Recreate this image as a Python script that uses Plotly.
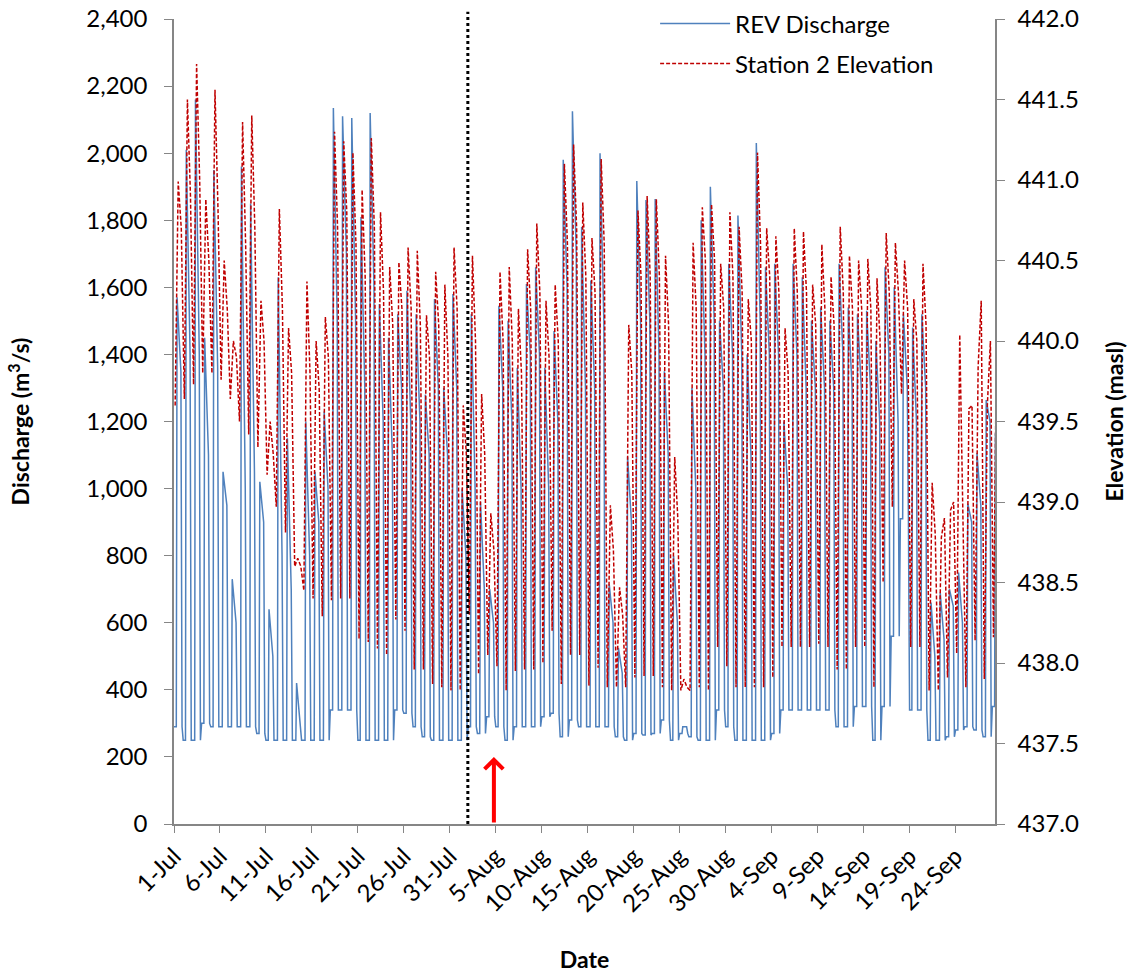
import plotly.graph_objects as go
import pandas as pd

# ---------------- data (one cycle per day from 1-Jul) ----------------
start_date = "2013-07-01"

# REV discharge (m3/s): night low, daily peak, evening level
q_lo = [290, 250, 250, 300, 290, 290, 290, 290, 290, 270,
        250, 250, 250, 250, 250, 250, 250, 340, 340, 340,
        250, 250, 250, 250, 340, 330, 290, 260, 250, 250,
        250, 250, 290, 270, 320, 290, 250, 290, 290, 290,
        320, 330, 260, 310, 290, 290, 290, 290, 260, 250,
        270, 265, 270, 310, 250, 270, 260, 250, 250, 340,
        290, 250, 250, 250, 250, 270, 340, 340, 340, 340,
        340, 340, 290, 290, 350, 350, 250, 350, 560, 910,
        340, 340, 250, 250, 260, 280, 290, 280, 260, 350]
q_pk = [1570, 2010, 2160, 1450, 1950, 1050, 730, 1960, 1850, 1020,
        640, 1630, 1150, 420, 1200, 1050, 1230, 2135, 2110, 2105,
        1810, 2120, 1550, 1450, 1520, 1590, 1520, 1280, 1565, 1300,
        1580, 1000, 1520, 960, 700, 1545, 1500, 1360, 1610, 1660,
        1360, 1470, 1980, 2125, 1780, 1620, 2000, 715, 525, 1095,
        1917, 1860, 1863, 1350, 800, 290, 1300, 1800, 1900, 1500,
        1670, 1814, 1400, 2030, 1660, 1670, 1200, 1670, 1630, 1500,
        1540, 1500, 1670, 1540, 1520, 1530, 1440, 1660, 1600, 1520,
        1480, 1520, 660, 690, 700, 750, 955, 1106, 1264, 1165]
q_mid = [1350, 1400, 1400, 1100, 1360, 950, 600, 1000, 1050, 900,
         500, 800, 700, 300, 800, 900, 1000, 1500, 1700, 1500,
         1300, 1600, 1200, 1100, 1300, 1200, 1200, 1100, 1300, 1100,
         1300, 800, 1000, 700, 600, 1300, 1200, 1000, 1400, 1400,
         1000, 1200, 1600, 1700, 1300, 1300, 1500, 600, 450, 900,
         1500, 1500, 1400, 1100, 600, 290, 1000, 1400, 1500, 1300,
         1400, 1400, 1100, 1500, 1400, 1400, 1000, 1400, 1300, 1300,
         1300, 1300, 1400, 1300, 1300, 1300, 1200, 1400, 1200, 1300,
         1200, 1300, 500, 550, 650, 600, 900, 950, 1200, 1000]

# Station 2 elevation (masl): daily low, daily peak, evening level
e_lo = [439.60, 439.64, 439.73, 439.80, 439.80, 439.76, 439.64, 439.50, 439.42, 439.34,
        439.17, 438.97, 438.81, 438.60, 438.45, 438.40, 438.29, 438.39, 438.40, 438.40,
        438.15, 438.13, 438.09, 438.05, 438.27, 438.20, 437.96, 437.96, 437.87, 437.85,
        437.83, 437.83, 438.30, 437.93, 438.05, 437.98, 437.83, 437.95, 437.96, 437.96,
        438.00, 438.20, 437.87, 438.05, 438.05, 437.86, 437.97, 437.85, 437.85, 437.85,
        437.91, 437.92, 437.92, 437.85, 437.83, 437.83, 437.83, 437.85, 437.83, 438.10,
        437.98, 437.85, 437.85, 437.85, 437.85, 437.91, 438.10, 438.10, 438.10, 438.10,
        438.12, 438.10, 437.96, 437.96, 438.10, 438.10, 437.85, 438.50, 438.97, 439.67,
        438.10, 438.10, 437.83, 437.83, 437.91, 438.06, 437.85, 438.14, 437.90, 438.16]
e_pk = [440.99, 441.50, 441.72, 440.88, 441.56, 440.50, 440.00, 441.36, 441.40, 440.25,
        439.50, 440.82, 440.08, 438.65, 440.37, 440.00, 440.15, 441.30, 441.24, 441.17,
        440.94, 441.26, 440.80, 440.46, 440.49, 440.58, 440.56, 440.16, 440.43, 440.35,
        440.58, 439.60, 440.53, 439.67, 438.93, 440.43, 440.46, 440.20, 440.57, 440.73,
        440.25, 440.35, 441.10, 441.22, 440.86, 440.64, 441.13, 438.98, 438.47, 440.10,
        440.81, 440.90, 440.88, 440.53, 439.28, 437.90, 440.61, 440.83, 440.85, 440.48,
        440.80, 440.71, 440.26, 441.17, 440.70, 440.65, 440.08, 440.70, 440.68, 440.35,
        440.60, 440.40, 440.71, 440.53, 440.50, 440.51, 440.39, 440.67, 440.61, 440.50,
        440.26, 440.48, 439.12, 438.78, 438.95, 440.04, 439.58, 439.84, 439.60, 440.00]
e_mid = [440.70, 440.90, 441.00, 440.50, 440.80, 440.20, 439.90, 440.60, 440.70, 440.00,
         439.30, 440.20, 439.80, 438.60, 439.80, 439.70, 439.90, 440.70, 440.80, 440.60,
         440.40, 440.70, 440.30, 440.10, 440.20, 440.20, 440.10, 439.90, 440.10, 439.90,
         440.20, 439.30, 440.00, 439.30, 438.70, 440.00, 440.00, 439.80, 440.20, 440.30,
         439.90, 440.00, 440.60, 440.70, 440.40, 440.30, 440.60, 438.70, 438.30, 439.80,
         440.40, 440.40, 440.40, 440.10, 438.90, 437.85, 440.20, 440.50, 440.50, 440.20,
         440.40, 440.30, 440.00, 440.60, 440.40, 440.30, 439.80, 440.30, 440.30, 440.10,
         440.20, 440.10, 440.30, 440.20, 440.20, 440.20, 440.00, 440.30, 440.30, 440.20,
         440.00, 440.10, 438.80, 438.90, 439.00, 439.00, 439.60, 440.25, 440.00, 439.60]

x_tick_labels_fmt = "%-d-%b"
y_left_ticks = [0, 200, 400, 600, 800, 1000, 1200, 1400, 1600, 1800, 2000, 2200, 2400]
y_right_ticks = [437.0, 437.5, 438.0, 438.5, 439.0, 439.5, 440.0, 440.5, 441.0, 441.5, 442.0]

divider_time = "2013-08-01 23:00"
arrow_time = "2013-08-04 19:00"
x_end = "2013-09-28 07:00"

# ---------------- build hourly-positioned points from the daily readings ----------------
start = pd.Timestamp(start_date)
blue_hours = [0, 6, 8, 18, 21]
red_hours = [3, 11, 19]

qx, qy = [], []
for d in range(len(q_lo)):
    day = start + pd.Timedelta(days=d)
    for h, v in zip(blue_hours, [q_lo[d], q_lo[d], q_pk[d], q_mid[d], q_lo[d]]):
        qx.append(day + pd.Timedelta(hours=h))
        qy.append(v)

ex, ey = [], []
for d in range(len(e_lo)):
    day = start + pd.Timedelta(days=d)
    for h, v in zip(red_hours, [e_lo[d], e_pk[d], e_mid[d]]):
        ex.append(day + pd.Timedelta(hours=h))
        ey.append(v)

FONT = "Lato, 'Open Sans', sans-serif"
AXIS_COLOR = "#868686"

fig = go.Figure()
fig.add_trace(go.Scatter(
    x=qx, y=qy, mode="lines", name="REV Discharge",
    line=dict(color="#4F81BD", width=1.5), legendgroup="a"))
fig.add_trace(go.Scatter(
    x=ex, y=ey, mode="lines", name="Station 2 Elevation", yaxis="y2",
    line=dict(color="#C00000", width=1.5, dash="4px,2px"), legendgroup="b"))

fig.update_layout(
    width=1131, height=974,
    margin=dict(l=174, r=136, t=19, b=150, autoexpand=False),
    paper_bgcolor="white", plot_bgcolor="white",
    font=dict(family=FONT, size=24, color="black"),
    showlegend=True,
    legend=dict(x=0.586, y=1.022, xanchor="left", yanchor="top",
                bgcolor="rgba(0,0,0,0)", font=dict(size=24),
                tracegroupgap=6, itemwidth=70),
    xaxis=dict(
        type="date", range=[start_date, x_end], automargin=False,
        tick0=start_date, dtick=5 * 86400000, tickformat=x_tick_labels_fmt,
        tickangle=-45, showgrid=False, zeroline=False, ticklabeloverflow="allow",
        showline=True, linecolor=AXIS_COLOR, linewidth=1.5,
        ticks="outside", ticklen=7, tickcolor=AXIS_COLOR,
        title=dict(text="<b>Date</b>", font=dict(size=23), standoff=36),
    ),
    yaxis=dict(
        range=[0, 2400], tickvals=y_left_ticks, tickformat=",d", automargin=False,
        showgrid=False, zeroline=False, ticklabeloverflow="allow",
        showline=True, linecolor=AXIS_COLOR, linewidth=1.5,
        ticks="outside", ticklen=8, tickcolor=AXIS_COLOR, ticklabelstandoff=12,
        title=dict(text="<b>Discharge (m<sup>3</sup>/s)</b>", font=dict(size=23), standoff=50),
    ),
    yaxis2=dict(
        range=[437, 442], tickvals=y_right_ticks, tickformat=".1f", automargin=False,
        overlaying="y", side="right", showgrid=False, zeroline=False, ticklabeloverflow="allow",
        showline=True, linecolor=AXIS_COLOR, linewidth=1.5,
        ticks="outside", ticklen=8, tickcolor=AXIS_COLOR, ticklabelstandoff=8,
        title=dict(text="<b>Elevation (masl)</b>", font=dict(size=23), standoff=29),
    ),
)

# vertical dotted divider
fig.add_shape(type="line", xref="x", yref="paper",
              x0=divider_time, x1=divider_time, y0=0, y1=1.009,
              line=dict(color="black", width=3, dash="dot"))

# red arrow pointing up at the x axis
fig.add_annotation(x=arrow_time, y=200, ax=arrow_time, ay=0,
                   xref="x", yref="y", axref="x", ayref="y",
                   showarrow=True, arrowhead=4, arrowsize=0.9, arrowwidth=4,
                   arrowcolor="red", text="")

# remove the default page margin so the figure sits at the window's top-left corner
fig.write_html("out.html",
               config={"displayModeBar": False},
               post_script="document.body.style.margin='0';document.body.style.padding='0';")
